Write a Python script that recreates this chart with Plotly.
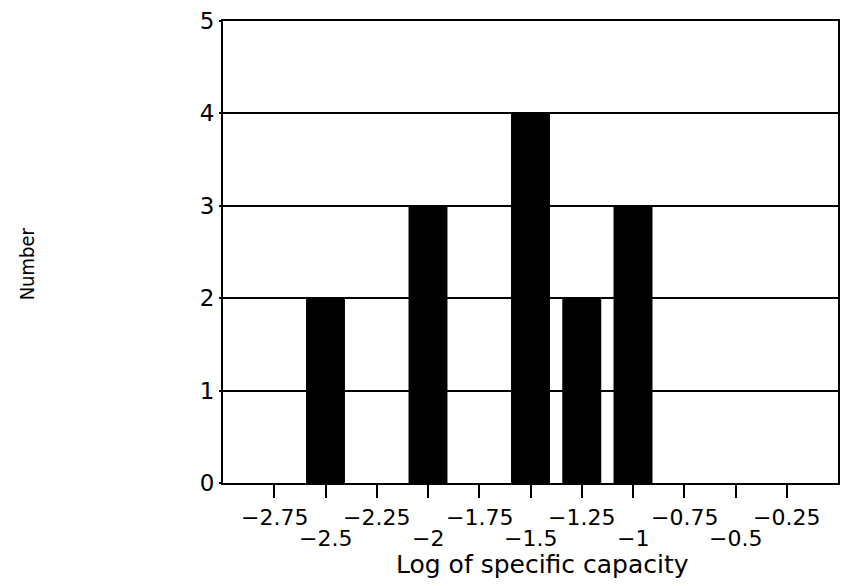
import plotly.graph_objects as go

# Histogram of log specific capacity
bin_centers = [-2.5, -2.0, -1.5, -1.25, -1.0]
counts = [2, 3, 4, 2, 3]
bar_width = 0.19

tick_vals = [-2.75, -2.5, -2.25, -2.0, -1.75, -1.5, -1.25, -1.0, -0.75, -0.5, -0.25]
tick_text = ["\u22122.75", "\u22122.5", "\u22122.25", "\u22122", "\u22121.75", "\u22121.5",
             "\u22121.25", "\u22121", "\u22120.75", "\u22120.5", "\u22120.25"]
y_ticks = [0, 1, 2, 3, 4, 5]

FONT = "DejaVu Sans"

fig = go.Figure()
fig.add_trace(go.Bar(
    x=bin_centers, y=counts, width=bar_width,
    marker=dict(color="black", line=dict(width=0)),
))

fig.update_layout(
    width=848, height=586,
    margin=dict(l=223, r=8, t=18, b=103),
    paper_bgcolor="white", plot_bgcolor="white",
    showlegend=False,
    font=dict(family=FONT, color="black"),
)
fig.update_xaxes(
    range=[-3.0, 0.0],
    tickvals=tick_vals, showticklabels=False,
    ticks="outside", ticklen=13, tickwidth=2, tickcolor="black",
    showgrid=False, zeroline=False,
    showline=True, linecolor="black", linewidth=2, mirror=True,
)
fig.update_yaxes(
    range=[0, 5],
    tickvals=y_ticks, ticktext=[str(v) for v in y_ticks],
    tickfont=dict(size=23, family=FONT),
    ticks="outside", ticklen=2, tickwidth=2, tickcolor="black",
    showgrid=True, gridcolor="black", gridwidth=2,
    zeroline=False,
    showline=True, linecolor="black", linewidth=2, mirror=True,
)

# staggered tick labels: alternate between two rows
for i, (v, t) in enumerate(zip(tick_vals, tick_text)):
    fig.add_annotation(
        x=v, xref="x", y=-0.0753 if i % 2 == 0 else -0.1204, yref="paper",
        text=t, showarrow=False, yanchor="middle", xanchor="center",
        font=dict(size=22, family=FONT),
    )

fig.add_annotation(
    x=0.519, xref="paper", y=-0.176, yref="paper", text="Log of specific capacity",
    showarrow=False, xanchor="center", yanchor="middle",
    font=dict(size=25, family=FONT),
)
fig.add_annotation(
    x=-0.319, xref="paper", y=0.475, yref="paper", text="Number", textangle=-90,
    showarrow=False, xanchor="center", yanchor="middle",
    font=dict(size=20, family="DejaVu Sans Condensed, DejaVu Sans"),
)

fig.write_html("out.html")
